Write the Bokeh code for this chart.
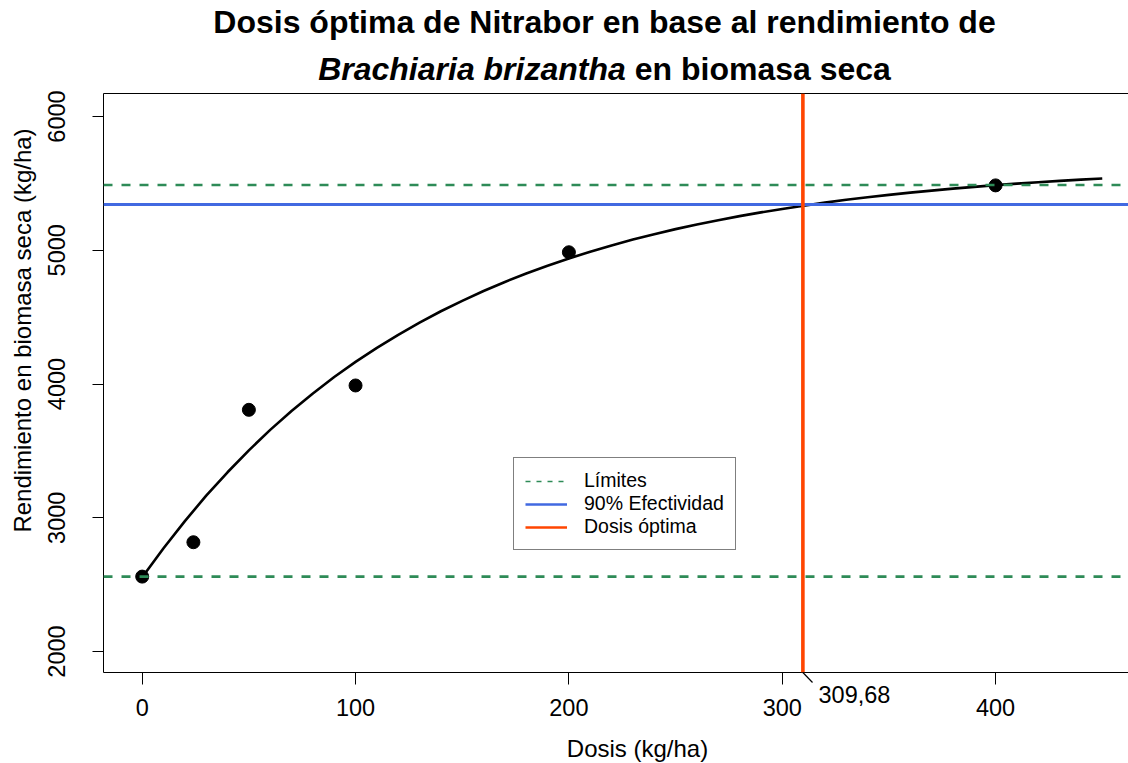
from bokeh.plotting import figure
from bokeh.models import (Range1d, FixedTicker, LinearAxis, Span, Legend,
                          LegendItem, BasicTickFormatter)
from bokeh.core.properties import value
from bokeh.embed import file_html
from bokeh.resources import INLINE

# ---------------- data ----------------
dosis = [0, 24, 50, 100, 200, 400]
rendimiento = [2560, 2817, 3807, 3989, 4985, 5485]

curve_x = [0, 10, 20, 30, 40, 50, 60, 70, 80, 90, 100, 110, 120, 130, 140, 150,
           160, 170, 180, 190, 200, 210, 220, 230, 240, 250, 260, 270, 280, 290,
           300, 310, 320, 330, 340, 350, 360, 370, 380, 390, 400, 410, 420, 430,
           440, 450]
curve_y = [2555, 2772, 2975, 3165, 3340, 3504, 3657, 3798, 3929, 4052, 4165, 4270,
           4368, 4459, 4544, 4622, 4695, 4763, 4826, 4884, 4939, 4989, 5036, 5080,
           5120, 5158, 5192, 5225, 5255, 5283, 5309, 5333, 5356, 5377, 5396, 5414,
           5431, 5446, 5461, 5474, 5487, 5498, 5509, 5519, 5528, 5537]

limites = [2560, 5488]
efectividad_90 = 5342
dosis_optima = 309.68

x_ticks = [0, 100, 200, 300, 400]
y_ticks = [2000, 3000, 4000, 5000, 6000]

legend_labels = ["Límites", "90% Efectividad", "Dosis óptima"]
title_line1 = "Dosis óptima de Nitrabor en base al rendimiento de"
title_species = "Brachiaria brizantha"
title_rest = "en biomasa seca"
x_label = "Dosis (kg/ha)"
y_label = "Rendimiento en biomasa seca (kg/ha)"

# ---------------- colours / fonts ----------------
GREEN = "#2E8B57"
BLUE = "#4169E1"
RED = "#FF4500"
FONT = "Liberation Sans"
NAN = float("nan")

# ---------------- layout ----------------
W, H = 1128, 763
FL, FT, FR, FB = 103, 93, 1128, 672          # frame edges in px
x0, x1 = -18.14, 462.3
y0, y1 = 1843.0, 6172.0
xs = (FR - FL) / (x1 - x0)
ys = (FB - FT) / (y1 - y0)


def X(px):
    return x0 + (px - FL) / xs


def Y(py):
    return y1 - (py - FT) / ys


p = figure(width=W, height=H, x_range=Range1d(x0, x1), y_range=Range1d(y0, y1),
           output_backend="svg", toolbar_location=None,
           min_border_left=FL, min_border_right=0, min_border_top=FT,
           min_border_bottom=H - FB)
p.outline_line_color = None
p.xgrid.visible = False
p.ygrid.visible = False
p.background_fill_color = "white"
p.border_fill_color = "white"

xaxis = p.xaxis[0]
yaxis = p.yaxis[0]
for ax, ticks in ((xaxis, x_ticks), (yaxis, y_ticks)):
    ax.ticker = FixedTicker(ticks=ticks)
    ax.formatter = BasicTickFormatter(use_scientific=False)
    ax.major_tick_in = 0
    ax.major_tick_out = 12
    ax.minor_tick_in = 0
    ax.minor_tick_out = 0
    ax.axis_line_color = "black"
    ax.major_tick_line_color = "black"
    ax.major_label_text_font = FONT
    ax.major_label_text_font_size = "23.5px"
    ax.major_label_text_color = "black"
xaxis.major_label_standoff = 14
yaxis.major_tick_out = 11
yaxis.major_label_orientation = "vertical"
yaxis.major_label_standoff = 27

top = LinearAxis(ticker=FixedTicker(ticks=[]), major_tick_in=0, major_tick_out=0,
                 minor_tick_in=0, minor_tick_out=0, axis_line_color="black",
                 major_label_text_font_size="0px")
p.add_layout(top, "above")

# reference lines
for lv in limites:
    p.add_layout(Span(location=lv, dimension="width", line_color=GREEN,
                      line_width=2.6, line_dash="9 9"))
p.add_layout(Span(location=efectividad_90, dimension="width", line_color=BLUE,
                  line_width=3.2))
p.add_layout(Span(location=dosis_optima, dimension="height", line_color=RED,
                  line_width=3.6))

# fitted curve and observations
p.line(curve_x, curve_y, line_color="black", line_width=2.6)
p.scatter(dosis, rendimiento, size=13, color="black")

# legend (own glyph styles, as in the reference legend)
lg1 = p.line([NAN], [NAN], line_color=GREEN, line_width=1.4, line_dash="5 6")
lg2 = p.line([NAN], [NAN], line_color=BLUE, line_width=2.6)
lg3 = p.line([NAN], [NAN], line_color=RED, line_width=2.6)
legend = Legend(items=[LegendItem(label=legend_labels[0], renderers=[lg1]),
                       LegendItem(label=legend_labels[1], renderers=[lg2]),
                       LegendItem(label=legend_labels[2], renderers=[lg3])],
                location=(513 - FL, FB - 550), margin=0, padding=11, spacing=0,
                glyph_width=42, glyph_height=20, label_height=20, label_standoff=17,
                border_line_color="black", border_line_width=1,
                background_fill_color="white", background_fill_alpha=1.0,
                label_text_font=FONT, label_text_font_size="19.5px",
                label_text_color="black")
p.add_layout(legend)


def txt(px, py, s, size, style="normal", align="left", angle=0.0):
    p.text(x=[X(px)], y=[Y(py)], text=[s], text_font=value(FONT),
           text_font_size=f"{size}px", text_font_style=style, text_color="black",
           text_align=align, text_baseline="alphabetic", angle=angle,
           level="overlay")


# optimum dose annotation below the axis
p.segment(x0=[dosis_optima], y0=[y0], x1=[X(812)], y1=[Y(682)],
          line_color="black", line_width=1.2, level="overlay")
txt(818, 694, f"{dosis_optima:.2f}".replace(".", ","), 23.5)

# titles
TF = 32
cx = 604
txt(cx, 21, title_line1, TF, "bold", "center")
split = cx + 0.666 * TF
txt(split, 68, title_species, TF, "bold italic", "right")
txt(split + 0.278 * TF, 68, title_rest, TF, "bold", "left")

# axis titles
txt(637, 748, x_label, 24, "normal", "center")
txt(22, 330, y_label, 24, "normal", "center", 1.5707963267948966)

open("out.html", "w").write(file_html(p, INLINE))
